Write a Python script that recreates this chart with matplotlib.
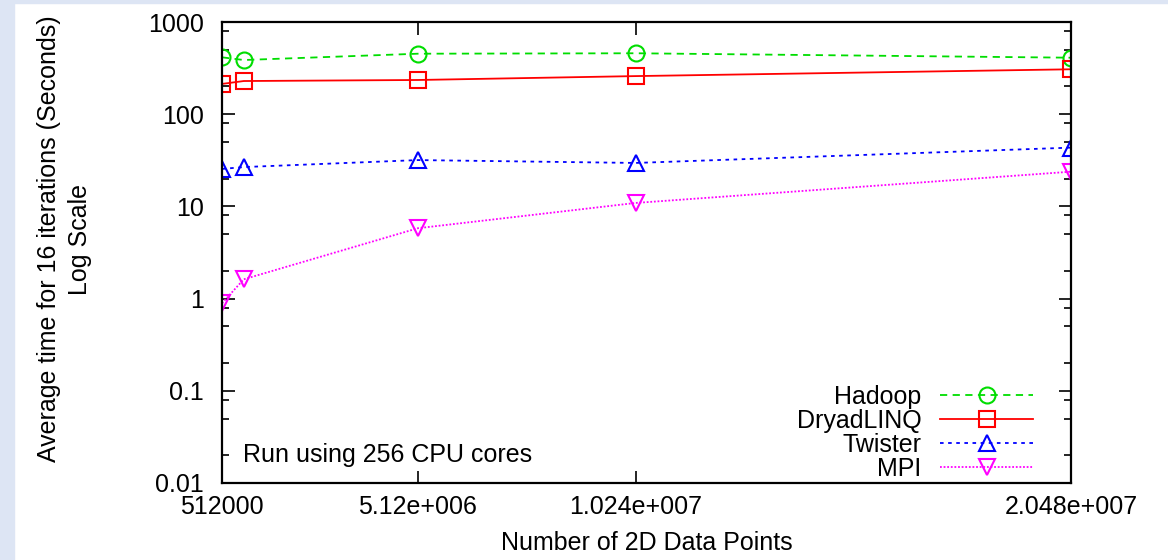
import numpy as np
import matplotlib
matplotlib.use("Agg")
import matplotlib.pyplot as plt
from matplotlib.patches import Rectangle
from matplotlib.ticker import LogLocator, NullFormatter, FixedLocator

# data
points = [512000, 1024000, 5120000, 10240000, 20480000]
hadoop = [414, 387, 453, 458, 410]
dryad = [213, 229, 235, 259, 307]
twister = [25.5, 26.7, 31.8, 29.6, 43.4]
mpi = [0.89, 1.62, 5.8, 10.9, 23.8]

xticks = [512000, 5120000, 10240000, 20480000]
xtick_labels = ['512000', '5.12e+006', '1.024e+007', '2.048e+007']
yticks = [0.01, 0.1, 1, 10, 100, 1000]
ytick_labels = ['0.01', '0.1', '1', '10', '100', '1000']

plt.rcParams['font.family'] = ['Liberation Sans', 'DejaVu Sans']
fs = 18

fig = plt.figure(figsize=(11.68, 5.6), dpi=100, facecolor='white')
# light blue frame strips on the left and top
bg = '#dde5f4'
fig.patches.append(Rectangle((0, 0), 14 / 1168, 1, transform=fig.transFigure,
                             color=bg, zorder=-10))
fig.patches.append(Rectangle((0, 1 - 3 / 560), 1, 3 / 560, transform=fig.transFigure,
                             color=bg, zorder=-10))

ax = fig.add_axes([222 / 1168, 77 / 560, 849 / 1168, 461 / 560])

mk = dict(markersize=11.5, markerfacecolor='none', markeredgewidth=1.5, linewidth=1.3)
ax.plot(points, hadoop, color='#00dd00', linestyle=(0, (4, 3)), marker='o',
        label='Hadoop', **mk)
ax.plot(points, dryad, color='#ff0000', linestyle='-', marker='s',
        label='DryadLINQ', **mk)
ax.plot(points, twister, color='#0000ff', linestyle=(0, (2, 2.5)), marker='^',
        label='Twister', **mk)
ax.plot(points, mpi, color='#ff00ff', linestyle=(0, (1, 1)), marker='v',
        label='MPI', **mk)

ax.set_yscale('log')
ax.set_xlim(512000, 20480000)
ax.set_ylim(0.01, 1000)

ax.xaxis.set_major_locator(FixedLocator(xticks))
ax.set_xticklabels(xtick_labels)
ax.yaxis.set_major_locator(FixedLocator(yticks))
ax.set_yticklabels(ytick_labels)
ax.yaxis.set_minor_locator(LogLocator(base=10, subs=(2, 5, 8)))
ax.yaxis.set_minor_formatter(NullFormatter())

ax.tick_params(which='both', direction='in', top=True, right=True,
               labelsize=fs, width=1.2, colors='black')
ax.tick_params(axis='y', which='major', length=9, pad=13)
ax.tick_params(axis='y', which='minor', length=5)
ax.tick_params(axis='x', which='major', length=9, pad=9)
for s in ax.spines.values():
    s.set_linewidth(1.6)

ax.set_xlabel('Number of 2D Data Points', fontsize=fs, labelpad=8)
ax.set_ylabel('Average time for 16 iterations (Seconds)\nLog Scale',
              fontsize=fs, linespacing=1.4)
ax.yaxis.set_label_coords(-0.153, 0.529)

ax.text(0.025, 0.061, 'Run using 256 CPU cores', transform=ax.transAxes,
        fontsize=fs, va='center', ha='left')

leg = ax.legend(loc='lower right', bbox_to_anchor=(0.955, 0.005), frameon=False,
                markerfirst=False, fontsize=fs, handlelength=3.7,
                handletextpad=0.75, labelspacing=0.0, borderpad=0, borderaxespad=0)

fig.savefig('out.png', dpi=100, facecolor='white')
